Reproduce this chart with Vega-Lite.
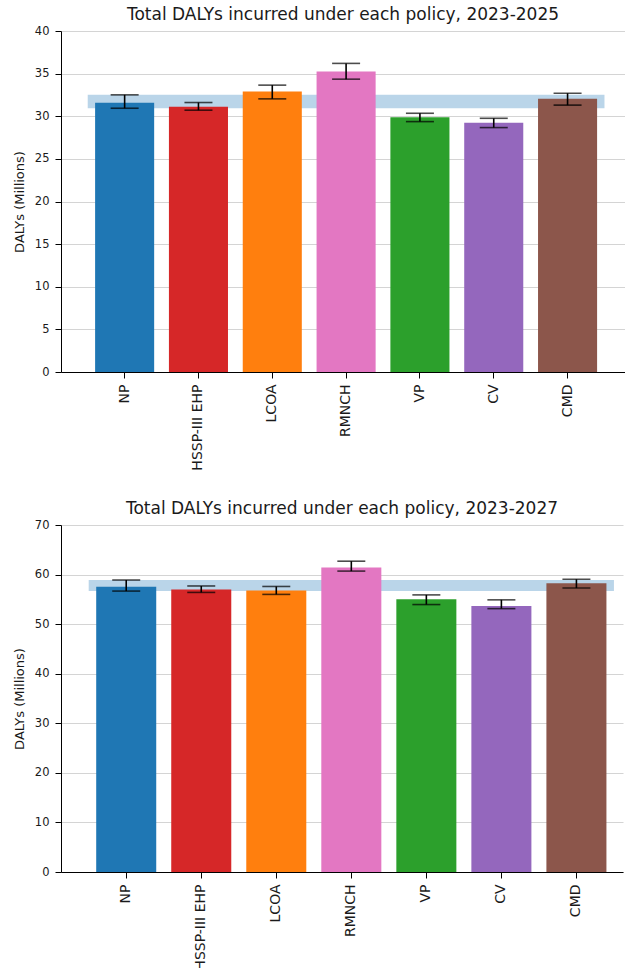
{
  "$schema": "https://vega.github.io/schema/vega-lite/v6.json",
  "padding": {"left": 13, "top": 6, "right": 0, "bottom": 0},
  "spacing": 29,
  "config": {
    "view": {"stroke": null},
    "font": "DejaVu Sans",
    "title": {"font": "DejaVu Sans", "fontSize": 17, "fontWeight": "normal", "color": "#1a1a1a", "offset": 1},
    "axis": {
      "labelFont": "DejaVu Sans", "labelFontSize": 11.5, "labelColor": "#1a1a1a",
      "titleFont": "DejaVu Sans", "titleFontSize": 13, "titleFontWeight": "normal", "titleColor": "#1a1a1a",
      "domainColor": "#000000", "domainWidth": 1, "tickColor": "#000000", "tickWidth": 1, "tickSize": 6,
      "labelPadding": 6, "titlePadding": 8, "gridColor": "#d4d4d4", "gridWidth": 1, "zindex": 1
    },
    "axisX": {"grid": false, "labelAngle": -90, "title": null, "labelFontSize": 14}
  },
  "datasets": {
    "dalys2025": [
      {"policy": "NP", "value": 31.57, "lo": 30.94, "hi": 32.51},
      {"policy": "HSSP-III EHP", "value": 31.10, "lo": 30.71, "hi": 31.61},
      {"policy": "LCOA", "value": 32.90, "lo": 32.04, "hi": 33.65},
      {"policy": "RMNCH", "value": 35.25, "lo": 34.35, "hi": 36.20},
      {"policy": "VP", "value": 29.88, "lo": 29.37, "hi": 30.35},
      {"policy": "CV", "value": 29.25, "lo": 28.67, "hi": 29.76},
      {"policy": "CMD", "value": 32.04, "lo": 31.30, "hi": 32.70}
    ],
    "dalys2027": [
      {"policy": "NP", "value": 57.55, "lo": 56.67, "hi": 58.90},
      {"policy": "HSSP-III EHP", "value": 57.00, "lo": 56.40, "hi": 57.70},
      {"policy": "LCOA", "value": 56.80, "lo": 56.00, "hi": 57.60},
      {"policy": "RMNCH", "value": 61.43, "lo": 60.70, "hi": 62.70},
      {"policy": "VP", "value": 55.03, "lo": 53.95, "hi": 55.90},
      {"policy": "CV", "value": 53.67, "lo": 53.13, "hi": 54.90},
      {"policy": "CMD", "value": 58.23, "lo": 57.28, "hi": 59.05}
    ]
  },
  "vconcat": [
    {
      "width": 564,
      "height": 341,
      "title": "Total DALYs incurred under each policy, 2023-2025",
      "data": {"name": "dalys2025"},
      "layer": [
        {
          "transform": [{"filter": "datum.policy === 'NP'"}],
          "mark": {"type": "rect", "color": "#bad5e9"},
          "encoding": {
            "x": {"datum": "NP", "type": "nominal", "bandPosition": -0.125},
            "x2": {"datum": "CMD", "bandPosition": 1.125},
            "y": {"field": "lo", "type": "quantitative", "title": "DALYs (Millions)"},
            "y2": {"field": "hi"}
          }
        },
        {
          "mark": {"type": "bar"},
          "encoding": {
            "x": {
              "field": "policy", "type": "nominal", "sort": null,
              "scale": {"type": "band", "domain": ["NP", "HSSP-III EHP", "LCOA", "RMNCH", "VP", "CV", "CMD"], "paddingInner": 0.2, "paddingOuter": 0.42, "align": 0.55}
            },
            "y": {
              "field": "value", "type": "quantitative", "title": "DALYs (Millions)",
              "scale": {"domain": [0, 40], "nice": false, "zero": true},
              "axis": {"values": [0, 5, 10, 15, 20, 25, 30, 35, 40]}
            },
            "color": {
              "field": "policy", "type": "nominal", "legend": null,
              "scale": {"domain": ["NP", "HSSP-III EHP", "LCOA", "RMNCH", "VP", "CV", "CMD"], "range": ["#1f77b4", "#d62728", "#ff7f0e", "#e377c2", "#2ca02c", "#9467bd", "#8c564b"]}
            }
          }
        },
        {
          "mark": {"type": "errorbar", "ticks": {"size": 28, "thickness": 1.6, "color": "#000000"}, "rule": {"strokeWidth": 1.6, "color": "#000000"}},
          "encoding": {
            "x": {"field": "policy", "type": "nominal", "sort": null},
            "y": {"field": "lo", "type": "quantitative", "title": "DALYs (Millions)"},
            "y2": {"field": "hi"}
          }
        }
      ]
    },
    {
      "width": 562,
      "height": 347,
      "title": "Total DALYs incurred under each policy, 2023-2027",
      "data": {"name": "dalys2027"},
      "layer": [
        {
          "transform": [{"filter": "datum.policy === 'NP'"}],
          "mark": {"type": "rect", "color": "#bad5e9"},
          "encoding": {
            "x": {"datum": "NP", "type": "nominal", "bandPosition": -0.125},
            "x2": {"datum": "CMD", "bandPosition": 1.125},
            "y": {"field": "lo", "type": "quantitative", "title": "DALYs (Millions)"},
            "y2": {"field": "hi"}
          }
        },
        {
          "mark": {"type": "bar"},
          "encoding": {
            "x": {
              "field": "policy", "type": "nominal", "sort": null,
              "scale": {"type": "band", "domain": ["NP", "HSSP-III EHP", "LCOA", "RMNCH", "VP", "CV", "CMD"], "paddingInner": 0.2, "paddingOuter": 0.345, "align": 0.68}
            },
            "y": {
              "field": "value", "type": "quantitative", "title": "DALYs (Millions)",
              "scale": {"domain": [0, 70], "nice": false, "zero": true},
              "axis": {"values": [0, 10, 20, 30, 40, 50, 60, 70]}
            },
            "color": {
              "field": "policy", "type": "nominal", "legend": null,
              "scale": {"domain": ["NP", "HSSP-III EHP", "LCOA", "RMNCH", "VP", "CV", "CMD"], "range": ["#1f77b4", "#d62728", "#ff7f0e", "#e377c2", "#2ca02c", "#9467bd", "#8c564b"]}
            }
          }
        },
        {
          "mark": {"type": "errorbar", "ticks": {"size": 28, "thickness": 1.6, "color": "#000000"}, "rule": {"strokeWidth": 1.6, "color": "#000000"}},
          "encoding": {
            "x": {"field": "policy", "type": "nominal", "sort": null},
            "y": {"field": "lo", "type": "quantitative", "title": "DALYs (Millions)"},
            "y2": {"field": "hi"}
          }
        }
      ]
    }
  ]
}
